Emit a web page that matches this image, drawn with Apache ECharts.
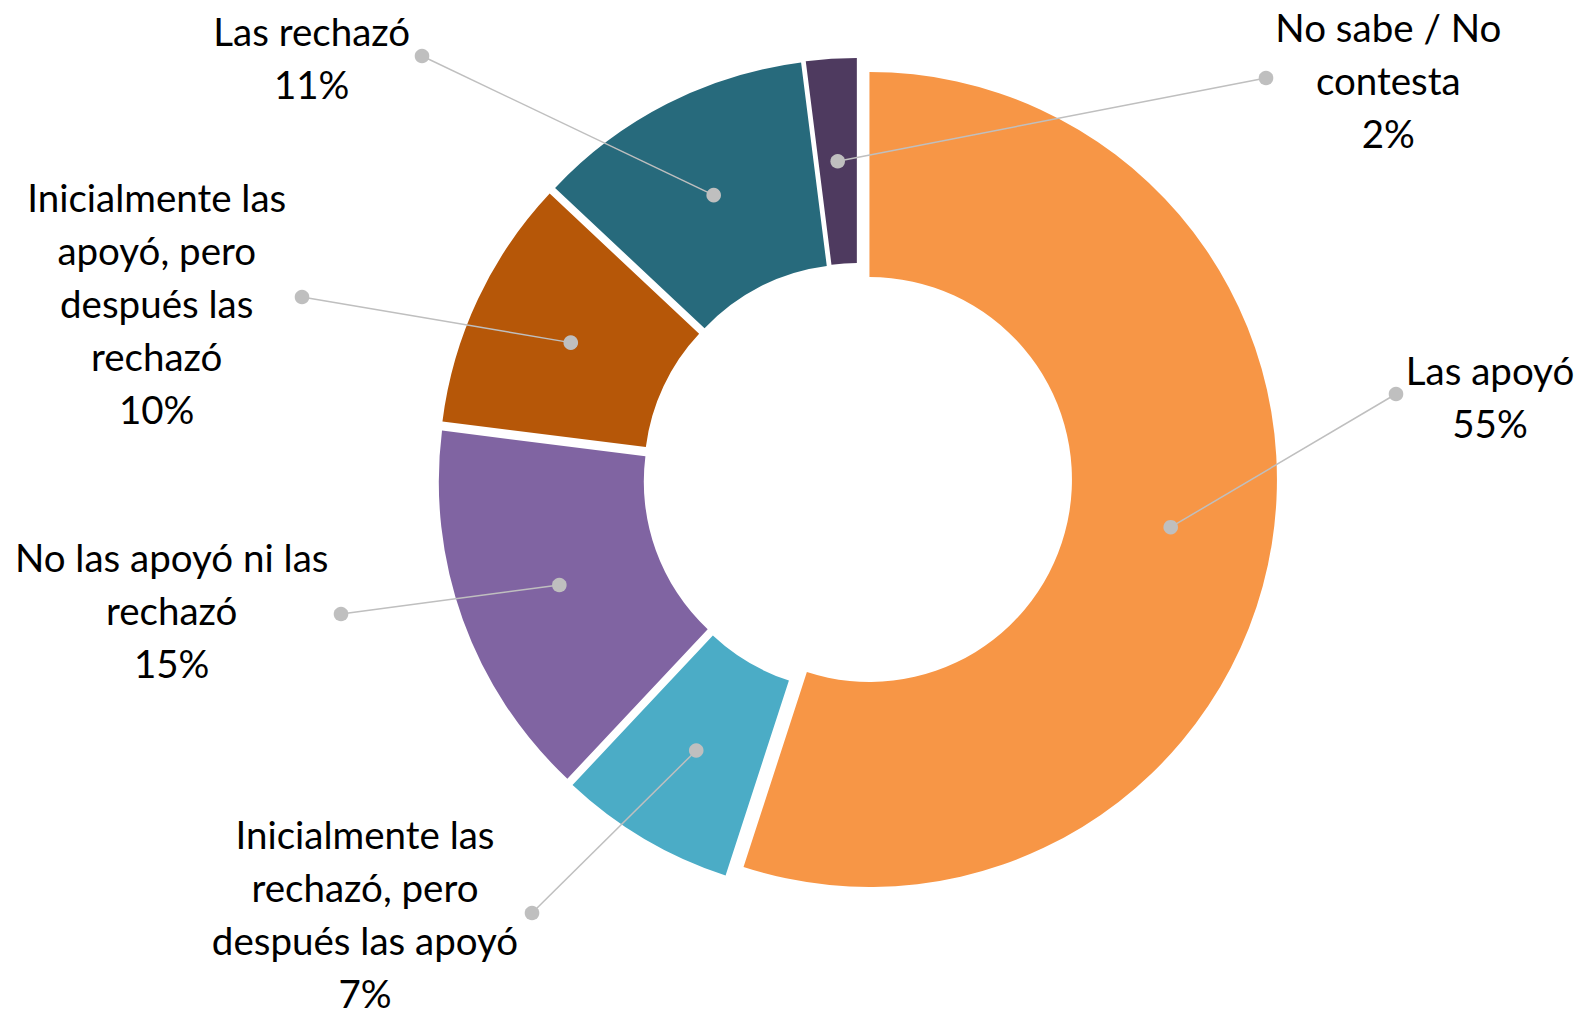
<!DOCTYPE html>
<html>
<head>
<meta charset="utf-8">
<script src="https://cdn.jsdelivr.net/npm/echarts@6/dist/echarts.min.js"></script>
<style>
html,body{margin:0;padding:0;background:#ffffff;}
#main{width:1579px;height:1011px;}
</style>
</head>
<body>
<div id="main"></div>
<script>
// ---- data ----
const categories = [
  'Las apoyó',
  'Inicialmente las rechazó, pero después las apoyó',
  'No las apoyó ni las rechazó',
  'Inicialmente las apoyó, pero después las rechazó',
  'Las rechazó',
  'No sabe / No contesta'
];
const values = [55, 7, 15, 10, 11, 2];
// wrapped label text (as shown in the chart)
const labelLines = [
  'Las apoyó',
  'Inicialmente las\nrechazó, pero\ndespués las apoyó',
  'No las apoyó ni las\nrechazó',
  'Inicialmente las\napoyó, pero\ndespués las\nrechazó',
  'Las rechazó',
  'No sabe / No\ncontesta'
];

// ---- styles / layout ----
const colors = ['#F79646', '#4BACC6', '#8064A2', '#B65708', '#276A7C', '#4E3A5F'];
const CENTER = [857.6, 477.6];
const R_IN = 202.5, R_OUT = 407.5, EXPLODE = 12;
// label block: [center x, first-line baseline y]
const labelAnchor = [[1490, 382.7], [365, 846.5], [171.7, 569.3], [156.7, 209.3], [311.7, 43.3], [1388.3, 39.3]];
// outer end of leader line
const dotAnchor = [[1396, 394], [532, 913], [341, 614], [302, 297], [422, 56], [1266, 78]];
const FS = 38.5, LH = 53, BASE_OFF = 0.3225 * FS;
const LINE_COLOR = '#BFBFBF';

const total = values.reduce((a, b) => a + b, 0);
function midAngle(i) {
  let before = 0;
  for (let k = 0; k < i; k++) before += values[k];
  return (before + values[i] / 2) / total * 2 * Math.PI;
}

const chart = echarts.init(document.getElementById('main'), null, {renderer: 'svg'});
const option = {
  animation: false,
  backgroundColor: '#ffffff',
  series: [
    {
      type: 'pie',
      z: 1,
      center: CENTER,
      radius: [R_IN, R_OUT],
      startAngle: 90,
      clockwise: true,
      selectedMode: 'multiple',
      selectedOffset: EXPLODE,
      silent: true,
      label: {show: false},
      labelLine: {show: false},
      emphasis: {disabled: true},
      data: categories.map((c, i) => ({
        name: c, value: values[i], selected: true,
        itemStyle: {color: colors[i]}
      }))
    },
    {
      type: 'custom',
      z: 10,
      coordinateSystem: 'none',
      silent: true,
      data: values.map((v, i) => [i, v]),
      renderItem: function (params, api) {
        const i = params.dataIndex;
        const a = midAngle(i);
        const r = (R_IN + R_OUT) / 2 + EXPLODE;
        const sx = CENTER[0] + r * Math.sin(a);
        const sy = CENTER[1] - r * Math.cos(a);
        const ex = dotAnchor[i][0], ey = dotAnchor[i][1];
        const lx = labelAnchor[i][0], ly = labelAnchor[i][1];
        return {
          type: 'group',
          children: [
            {type: 'line', shape: {x1: sx, y1: sy, x2: ex, y2: ey},
             style: {stroke: LINE_COLOR, lineWidth: 1.5}},
            {type: 'circle', shape: {cx: sx, cy: sy, r: 7.3}, style: {fill: LINE_COLOR}},
            {type: 'circle', shape: {cx: ex, cy: ey, r: 7.3}, style: {fill: LINE_COLOR}},
            {type: 'text', x: lx, y: ly - BASE_OFF - LH / 2,
             style: {
               text: labelLines[i] + '\n' + values[i] + '%',
               fill: '#000000',
               font: FS + 'px Lato',
               textAlign: 'center', align: 'center',
               textVerticalAlign: 'top', verticalAlign: 'top',
               lineHeight: LH
             }}
          ]
        };
      }
    }
  ]
};
chart.setOption(option);
</script>
</body>
</html>
